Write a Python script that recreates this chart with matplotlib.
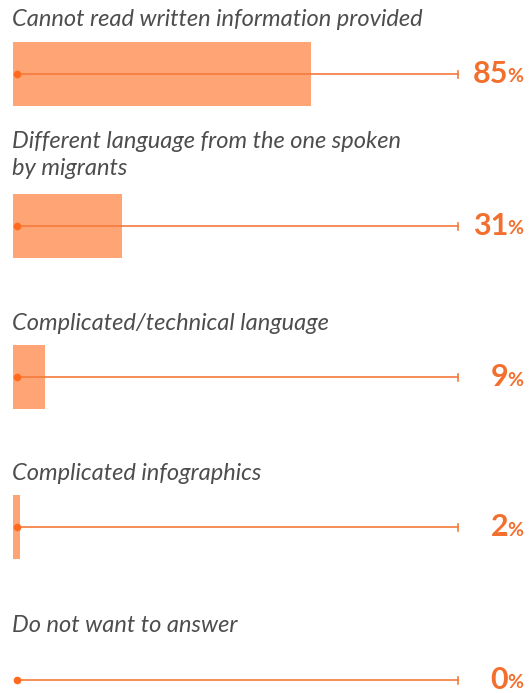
import matplotlib.pyplot as plt

labels = [
    "Cannot read written information provided",
    "Different language from the one spoken\nby migrants",
    "Complicated/technical language",
    "Complicated infographics",
    "Do not want to answer",
]
values = [85, 31, 9, 2, 0]

bar_color = "#FFA474"
line_color = "#F47A3C"
dot_color = "#FF6A1F"
pct_color = "#F26F2E"
text_color = "#4D4D4D"

W, H = 531, 693
fig = plt.figure(figsize=(W / 100, H / 100), dpi=100)
ax = fig.add_axes([0, 0, 1, 1])

# 1% = 3.506 px, 0% at pixel 13
px = 3.506
x0 = 13
ax.set_xlim(-x0 / px, (W - x0) / px)
ax.set_ylim(H, 0)
ax.axis("off")


def to_val(p):
    return (p - x0) / px


centers = [74, 226, 377, 527, 680]
label_y = [20, 155, 323, 474, 626]

for i, (lab, v) in enumerate(zip(labels, values)):
    yc = centers[i]
    if v > 0:
        ax.barh(yc, v, height=64, left=0, color=bar_color, zorder=1)
    ax.plot([to_val(17), to_val(458)], [yc, yc], color=line_color, lw=1.2, zorder=2)
    ax.plot([to_val(458), to_val(458)], [yc - 3.5, yc + 3.5], color=line_color, lw=1.2, zorder=2)
    ax.plot(to_val(17), yc, "o", color=dot_color, ms=4.5, zorder=3)
    ax.text(to_val(12), label_y[i], lab, fontsize=17, family="Lato", style="italic",
            color=text_color, va="center", ha="left", linespacing=1.3)
    ax.text(to_val(508), yc, str(v), fontsize=22, family="Lato", fontweight="bold",
            color=pct_color, va="center", ha="right")
    ax.text(to_val(507), yc + 3, "%", fontsize=14, family="Lato", fontweight="bold",
            color=pct_color, va="center", ha="left")

fig.savefig("out.png", dpi=100)
